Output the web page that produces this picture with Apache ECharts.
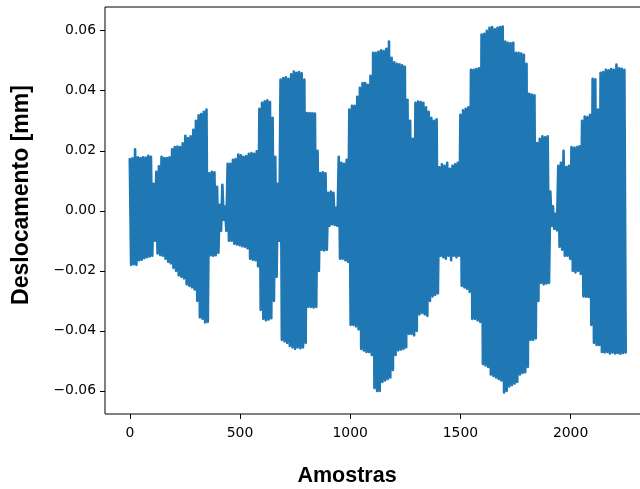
<!DOCTYPE html>
<html>
<head>
<meta charset="utf-8">
<title>Deslocamento</title>
<script src="https://cdn.jsdelivr.net/npm/echarts@6/dist/echarts.min.js"></script>
<style>
  html, body { margin: 0; padding: 0; background: #fff; }
  #chart { width: 640px; height: 489px; }
</style>
</head>
<body>
<div id="chart"></div>
<script>
// Sinal de deslocamento: a cada bloco de PASSO amostras, um pico (positivo) e um vale (negativo) em mm.
const PASSO = 12;
const N_AMOSTRAS = 2250;

const picos = [
  0.0172, 0.0175, 0.0205, 0.0178, 0.0176, 0.0178, 0.0177, 0.0183, 0.0180, 0.0090,
  0.0130, 0.0148, 0.0180, 0.0176, 0.0176, 0.0178, 0.0205, 0.0212, 0.0214, 0.0212,
  0.0225, 0.0250, 0.0242, 0.0248, 0.0270, 0.0300, 0.0318, 0.0322, 0.0330, 0.0337,
  0.0125, 0.0130, 0.0128, 0.0080, 0.0020, 0.0087, 0.0014, 0.0157, 0.0157, 0.0170,
  0.0172, 0.0187, 0.0185, 0.0180, 0.0182, 0.0190, 0.0192, 0.0190, 0.0198, 0.0340,
  0.0360, 0.0365, 0.0368, 0.0362, 0.0310, 0.0180, 0.0090, 0.0437, 0.0442, 0.0445,
  0.0440, 0.0455, 0.0464, 0.0460, 0.0462, 0.0458, 0.0437, 0.0326, 0.0326, 0.0325,
  0.0324, 0.0200, 0.0126, 0.0128, 0.0125, 0.0060, 0.0064, 0.0060, 0.0010, 0.0180,
  0.0160, 0.0157, 0.0170, 0.0337, 0.0350, 0.0350, 0.0380, 0.0410, 0.0426, 0.0426,
  0.0420, 0.0450, 0.0526, 0.0526, 0.0530, 0.0535, 0.0532, 0.0540, 0.0564, 0.0510,
  0.0495, 0.0490, 0.0488, 0.0485, 0.0480, 0.0370, 0.0300, 0.0240, 0.0360, 0.0364,
  0.0362, 0.0360, 0.0345, 0.0330, 0.0310, 0.0300, 0.0305, 0.0145, 0.0155, 0.0150,
  0.0160, 0.0140, 0.0150, 0.0155, 0.0160, 0.0320, 0.0335, 0.0340, 0.0345, 0.0470,
  0.0470, 0.0472, 0.0475, 0.0587, 0.0590, 0.0600, 0.0610, 0.0612, 0.0605, 0.0610,
  0.0612, 0.0614, 0.0564, 0.0560, 0.0558, 0.0560, 0.0526, 0.0526, 0.0524, 0.0520,
  0.0490, 0.0390, 0.0387, 0.0385, 0.0226, 0.0240, 0.0248, 0.0245, 0.0248, 0.0064,
  0.0015, -0.0010, 0.0150, 0.0160, 0.0200, 0.0146, 0.0150, 0.0212, 0.0210, 0.0212,
  0.0215, 0.0300, 0.0314, 0.0312, 0.0320, 0.0440, 0.0438, 0.0337, 0.0460, 0.0462,
  0.0470, 0.0468, 0.0472, 0.0470, 0.0487, 0.0475, 0.0473, 0.0470
];

const vales = [
  -0.0180, -0.0178, -0.0180, -0.0165, -0.0163, -0.0158, -0.0155, -0.0152, -0.0150, -0.0100,
  -0.0142, -0.0147, -0.0150, -0.0160, -0.0170, -0.0175, -0.0190, -0.0200, -0.0215, -0.0220,
  -0.0225, -0.0245, -0.0250, -0.0255, -0.0262, -0.0300, -0.0355, -0.0360, -0.0372, -0.0370,
  -0.0148, -0.0150, -0.0148, -0.0140, -0.0066, -0.0030, -0.0066, -0.0100, -0.0100, -0.0110,
  -0.0112, -0.0115, -0.0118, -0.0120, -0.0125, -0.0160, -0.0163, -0.0165, -0.0185, -0.0330,
  -0.0360, -0.0365, -0.0362, -0.0358, -0.0300, -0.0220, -0.0100, -0.0430, -0.0435, -0.0440,
  -0.0450, -0.0455, -0.0460, -0.0455, -0.0458, -0.0455, -0.0440, -0.0320, -0.0320, -0.0322,
  -0.0320, -0.0200, -0.0130, -0.0132, -0.0130, -0.0050, -0.0045, -0.0047, -0.0050, -0.0160,
  -0.0160, -0.0165, -0.0170, -0.0380, -0.0380, -0.0385, -0.0395, -0.0460, -0.0465, -0.0470,
  -0.0470, -0.0480, -0.0590, -0.0600, -0.0600, -0.0570, -0.0565, -0.0560, -0.0555, -0.0530,
  -0.0480, -0.0465, -0.0462, -0.0460, -0.0455, -0.0410, -0.0410, -0.0415, -0.0400, -0.0345,
  -0.0340, -0.0345, -0.0350, -0.0300, -0.0285, -0.0280, -0.0275, -0.0150, -0.0155, -0.0160,
  -0.0150, -0.0165, -0.0150, -0.0155, -0.0150, -0.0250, -0.0255, -0.0260, -0.0270, -0.0360,
  -0.0360, -0.0365, -0.0370, -0.0510, -0.0515, -0.0520, -0.0545, -0.0550, -0.0555, -0.0560,
  -0.0565, -0.0605, -0.0600, -0.0585, -0.0580, -0.0575, -0.0570, -0.0545, -0.0540, -0.0538,
  -0.0520, -0.0430, -0.0430, -0.0425, -0.0300, -0.0240, -0.0245, -0.0242, -0.0240, -0.0050,
  -0.0060, -0.0065, -0.0120, -0.0130, -0.0150, -0.0150, -0.0160, -0.0200, -0.0205, -0.0200,
  -0.0210, -0.0285, -0.0286, -0.0287, -0.0380, -0.0440, -0.0447, -0.0447, -0.0470, -0.0472,
  -0.0470, -0.0475, -0.0472, -0.0475, -0.0474, -0.0476, -0.0474, -0.0472
];

const ticksX = [0, 500, 1000, 1500, 2000];
const ticksY = [-0.06, -0.04, -0.02, 0.00, 0.02, 0.04, 0.06];

const tituloX = 'Amostras';
const tituloY = 'Deslocamento [mm]';

// Sequência de amostras: pico no início de cada bloco, vale no meio dele
const serie = [];
for (let k = 0; k < picos.length; k++) {
  serie.push([k * PASSO, picos[k]]);
  serie.push([k * PASSO + PASSO / 2, vales[k]]);
}

const margemX = 0.05 * N_AMOSTRAS;
const fonteTicks = 'DejaVu Sans';
const rotuloY = v => (v < 0 ? '\u2212' : '') + Math.abs(v).toFixed(2);

const chart = echarts.init(document.getElementById('chart'), null, { renderer: 'canvas' });
chart.setOption({
  animation: false,
  backgroundColor: '#ffffff',
  grid: {
    // a área do gráfico continua além da borda direita da figura
    left: 105, top: 7, height: 407, width: 545.5,
    outerBoundsMode: 'none',
    containLabel: false,
    show: true, borderColor: '#000', borderWidth: 1, backgroundColor: 'transparent'
  },
  xAxis: {
    type: 'value',
    min: -margemX,
    max: N_AMOSTRAS + margemX,
    splitLine: { show: false },
    axisLine: { show: false, onZero: false },
    axisTick: { show: true, length: 5, inside: false, lineStyle: { color: '#000', width: 1 }, customValues: ticksX },
    axisLabel: {
      customValues: ticksX, margin: 12, color: '#000',
      fontFamily: fonteTicks, fontSize: 13.9,
      formatter: v => String(v)
    }
  },
  yAxis: {
    type: 'value',
    min: -0.0677,
    max: 0.0679,
    splitLine: { show: false },
    axisLine: { show: false, onZero: false },
    axisTick: { show: true, length: 5, inside: false, lineStyle: { color: '#000', width: 1 }, customValues: ticksY },
    axisLabel: {
      customValues: ticksY, margin: 9, color: '#000',
      fontFamily: fonteTicks, fontSize: 13.9,
      formatter: v => rotuloY(v)
    }
  },
  graphic: [
    {
      type: 'text', x: 347, y: 476,
      style: { text: tituloX, fontFamily: 'Liberation Sans', fontWeight: 'bold', fontSize: 21.5, fill: '#000', align: 'center', verticalAlign: 'middle' }
    },
    {
      type: 'text',
      x: 22, y: 195, rotation: Math.PI / 2,
      style: { text: tituloY, fontFamily: 'Liberation Sans', fontWeight: 'bold', fontSize: 23, fill: '#000', align: 'center', verticalAlign: 'middle' }
    }
  ],
  series: [{
    type: 'line',
    data: serie,
    showSymbol: false,
    symbol: 'none',
    lineStyle: { color: '#1f77b4', width: 2.6, join: 'round', cap: 'round' },
    clip: true
  }]
});
</script>
</body>
</html>
